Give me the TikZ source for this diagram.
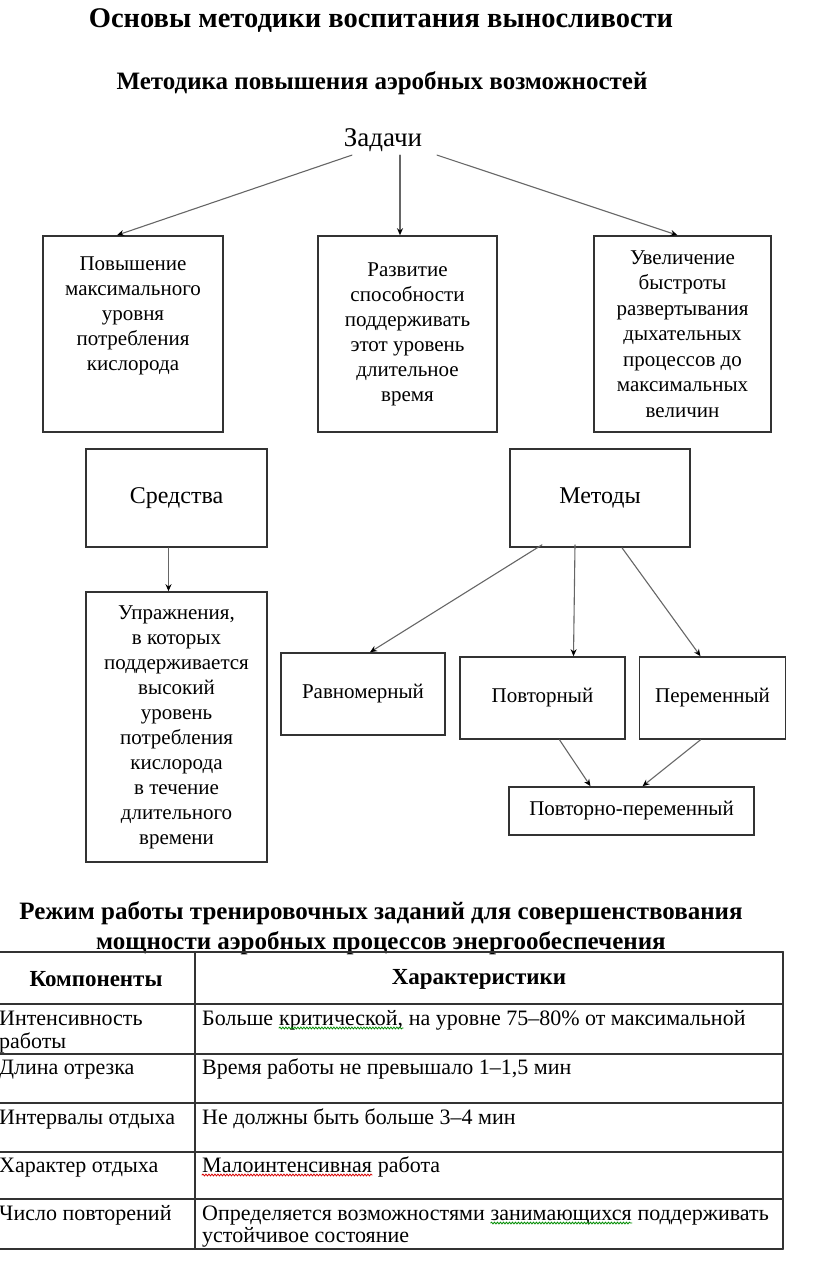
\documentclass[tikz,border=0pt]{standalone}
\usepackage{fontspec}
\setmainfont{Liberation Serif}
\usetikzlibrary{arrows.meta,decorations.pathmorphing}

\begin{document}
\begin{tikzpicture}[x=1pt, y=-1pt, line cap=round]

%---- STYLES ----
\tikzset{
    goalbox/.style={draw=black!80, line width=1.6pt, align=center,
        inner sep=4pt, font=\fontsize{21}{25}\selectfont},
    link/.style={draw=black!60, line width=1.1pt,
        -{Stealth[length=7pt, width=6pt, black]}},
    grid/.style={draw=black!80, line width=1.8pt},
    cell/.style={inner sep=0pt, anchor=base west, align=left,
        font=\fontsize{22}{23}\selectfont},
    head/.style={font=\bfseries\fontsize{23}{26}\selectfont},
    spell/.style={decorate, line width=0.8pt,
        decoration={snake, amplitude=0.9pt, segment length=3pt}},
}

\useasboundingbox (0,0) rectangle (816,1287);

%---- TITLES ----
\node[font=\bfseries\fontsize{28.5}{32}\selectfont] (title) at (381,21)
    {Основы методики воспитания выносливости};
\node[font=\bfseries\fontsize{25}{28}\selectfont] (subtitle) at (382,83)
    {Методика повышения аэробных возможностей};

% TASKS
\node[font=\fontsize{27}{30}\selectfont] (zadachi) at (383,140) {Задачи};

\node[goalbox, minimum width=180pt, minimum height=196pt] (goalA) at (133,334)
    {Повышение\\максимального\\уровня\\потребления\\кислорода\\[8pt]\strut};
\node[goalbox, minimum width=179pt, minimum height=196pt] (goalB) at (407.5,334)
    {Развитие\\способности\\поддерживать\\этот уровень\\длительное\\время};
\node[goalbox, minimum width=177pt, minimum height=196pt,
      font=\fontsize{21}{25.5}\selectfont] (goalC) at (682.5,334)
    {Увеличение\\быстроты\\развертывания\\дыхательных\\процессов до\\максимальных\\величин};

\draw[link] ([xshift=-31pt]zadachi.south) -- ([xshift=-16pt]goalA.north);
\draw[link] ([xshift=17pt]zadachi.south) -- ([xshift=-7.5pt]goalB.north);
\draw[link] ([xshift=54pt]zadachi.south) -- ([xshift=-5pt]goalC.north);

%---- MEANS ----
\node[goalbox, minimum width=181pt, minimum height=98pt,
      font=\fontsize{24}{28}\selectfont] (sredstva) at (176.5,498) {Средства};
\node[goalbox, minimum width=181pt, minimum height=270pt] (upr) at (176.5,727)
    {Упражнения,\\в которых\\поддерживается\\высокий\\уровень\\потребления\\кислорода\\в течение\\длительного\\времени};
\draw[link] ([xshift=-8pt]sredstva.south) -- ([xshift=-8pt]upr.north);

%---- METHODS ----
\node[goalbox, minimum width=180pt, minimum height=98pt,
      font=\fontsize{24}{28}\selectfont] (metody) at (600,498) {Методы};

\node[goalbox, minimum width=164pt, minimum height=82pt] (ravn) at (363,694) {Равномерный};
\node[goalbox, minimum width=165pt, minimum height=82pt] (povt) at (542.5,698) {Повторный};
\node[goalbox, minimum width=146pt, minimum height=82pt] (perem) at (712.5,698) {Переменный};
\node[goalbox, minimum width=245pt, minimum height=48pt] (povtperem) at (631.5,811)
    {Повторно-переменный};

\draw[link] ([xshift=-58pt,yshift=3pt]metody.south) -- ([xshift=7pt]ravn.north);
\draw[link] ([xshift=-25pt,yshift=3pt]metody.south) -- ([xshift=31pt]povt.north);
\draw[link] ([xshift=22pt]metody.south) -- ([xshift=-12pt]perem.north);
\draw[link] ([xshift=17pt]povt.south) -- ([xshift=-41pt]povtperem.north);
\draw[link] ([xshift=-12pt]perem.south) -- ([xshift=11pt]povtperem.north);

%---- TABLE ----
\node[font=\bfseries\fontsize{25}{30}\selectfont, align=center] (tabtitle) at (381,928)
    {Режим работы тренировочных заданий для совершенствования\\
     мощности аэробных процессов энергообеспечения};

\draw[grid, line width=2.4pt] (0,952) -- (783,952);
\foreach \y in {1004,1054,1103,1152,1199,1249}
    \draw[grid] (0,\y) -- (783,\y);
\draw[grid] (195,952) -- (195,1249);
\draw[grid] (783,952) -- (783,1249);

\node[head] (hcomp) at (96,979) {Компоненты};
\node[head] (hchar) at (479,979) {Характеристики};

\node[cell] (c1) at (-1,1025) {Интенсивность};
\node[cell] (c1b) at (-1,1048) {работы};
\node[cell] (c2) at (-1,1074) {Длина отрезка};
\node[cell] (c3) at (-1,1124) {Интервалы отдыха};
\node[cell] (c4) at (-1,1172) {Характер отдыха};
\node[cell] (c5) at (-1,1220) {Число повторений};

% row 1, with a marked word
\node[cell] (d1) at (202,1025) {Больше\ };
\node[cell] (d1w) at (d1.base east) {критической,};
\node[cell] (d1r) at (d1w.base east) {\ на уровне 75–80\% от максимальной};
\node[cell] (d2) at (202,1074) {Время работы не превышало 1–1,5 мин};
\node[cell] (d3) at (202,1124) {Не должны быть больше 3–4 мин};
\node[cell] (d4w) at (202,1172) {Малоинтенсивная};
\node[cell] (d4) at (d4w.base east) {\ работа};
\node[cell] (d5) at (202,1220) {Определяется возможностями\ };
\node[cell] (d5w) at (d5.base east) {занимающихся};
\node[cell] (d5r) at (d5w.base east) {\ поддерживать};
\node[cell] (d5b) at (202,1242) {устойчивое состояние};

% spelling marks
\draw[spell, green!55!black] ([yshift=-3pt]d1w.base west) -- ([yshift=-3pt]d1w.base east);
\draw[spell, red!85!black] ([yshift=-3pt]d4w.base west) -- ([yshift=-3pt]d4w.base east);
\draw[spell, green!55!black] ([yshift=-3pt]d5w.base west) -- ([yshift=-3pt]d5w.base east);

\end{tikzpicture}
\end{document}
